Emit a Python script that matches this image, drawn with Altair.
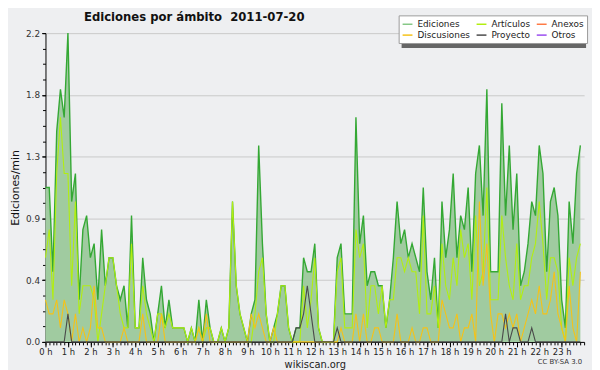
import altair as alt
import pandas as pd

# ---- data (edits per 10-minute slot, in tenths of edits/min) ----
ediciones = [11, 11, 5, 15, 18, 16, 22, 10, 12, 3,
             8, 9, 6, 7, 3, 8, 4, 6, 6, 4,
             3, 4, 1, 9, 1, 1, 6, 3, 2, 0,
             2, 4, 1, 3, 1, 1, 1, 1, 0, 1,
             0, 3, 0, 3, 1, 0, 0, 1, 0, 1,
             10, 4, 2, 1, 0, 2, 3, 14, 7, 2,
             0, 1, 2, 4, 4, 1, 0, 1, 1, 6,
             5, 5, 7, 1, 0, 0, 0, 0, 6, 7,
             2, 2, 2, 16, 7, 9, 4, 5, 5, 4,
             4, 1, 3, 6, 10, 7, 8, 6, 7, 6,
             5, 11, 5, 3, 6, 1, 10, 6, 8, 12,
             6, 9, 8, 11, 5, 12, 14, 9, 18, 5,
             5, 5, 17, 9, 14, 8, 12, 4, 5, 7,
             10, 9, 14, 12, 5, 10, 11, 9, 3, 1,
             10, 7, 12, 14]

articulos = [6, 8, 3, 12, 16, 12, 12, 4, 10, 2,
             4, 4, 4, 3, 0, 2, 4, 6, 6, 4,
             2, 1, 1, 7, 1, 1, 4, 2, 1, 0,
             2, 2, 1, 2, 1, 1, 1, 1, 0, 1,
             0, 1, 0, 1, 1, 0, 0, 1, 0, 1,
             10, 4, 2, 1, 0, 0, 2, 5, 6, 2,
             0, 0, 2, 4, 4, 1, 0, 0, 0, 4,
             1, 3, 6, 1, 0, 0, 0, 0, 5, 6,
             1, 1, 1, 8, 6, 7, 1, 4, 4, 2,
             4, 1, 3, 3, 6, 6, 5, 6, 5, 5,
             2, 9, 2, 2, 4, 1, 7, 4, 3, 6,
             4, 8, 6, 7, 3, 9, 4, 5, 11, 3,
             3, 3, 9, 6, 4, 3, 7, 3, 4, 4,
             6, 7, 10, 7, 3, 6, 6, 5, 1, 0,
             6, 4, 6, 7]

discusiones = [3, 2, 2, 3, 1, 3, 2, 0, 2, 0,
               1, 0, 1, 4, 1, 1, 0, 0, 0, 0,
               0, 1, 0, 0, 0, 0, 2, 0, 0, 0,
               0, 2, 0, 0, 0, 0, 0, 0, 0, 0,
               0, 1, 0, 2, 0, 0, 0, 0, 0, 0,
               0, 0, 0, 0, 0, 2, 1, 2, 1, 0,
               0, 1, 0, 0, 0, 0, 0, 0, 0, 0,
               0, 0, 0, 0, 0, 0, 0, 0, 0, 1,
               0, 0, 0, 2, 0, 2, 0, 0, 1, 1,
               0, 0, 0, 0, 2, 0, 0, 0, 1, 0,
               0, 1, 1, 0, 0, 0, 3, 2, 1, 1,
               2, 0, 1, 1, 2, 0, 10, 4, 7, 2,
               0, 2, 2, 1, 2, 1, 2, 0, 1, 2,
               3, 2, 4, 2, 2, 3, 5, 2, 1, 0,
               4, 1, 0, 5]

proyecto = [0, 0, 0, 0, 0, 0, 2, 0, 0, 0,
            0, 0, 0, 0, 0, 0, 0, 0, 0, 0,
            0, 0, 0, 0, 0, 0, 0, 0, 0, 0,
            0, 0, 0, 0, 0, 0, 0, 0, 0, 0,
            0, 0, 0, 0, 0, 0, 0, 0, 0, 0,
            0, 0, 0, 0, 0, 0, 0, 0, 0, 0,
            0, 0, 0, 0, 0, 0, 0, 1, 1, 2,
            4, 2, 0, 0, 0, 0, 0, 0, 1, 0,
            0, 0, 0, 0, 0, 0, 0, 0, 0, 0,
            0, 0, 0, 0, 0, 0, 0, 0, 0, 0,
            0, 0, 0, 0, 0, 0, 0, 0, 0, 0,
            0, 0, 0, 0, 0, 0, 0, 0, 0, 0,
            0, 0, 0, 2, 0, 1, 1, 0, 0, 0,
            1, 0, 0, 0, 0, 0, 0, 0, 0, 0,
            0, 0, 0, 0]

series_names = ["Ediciones", "Artículos", "Anexos", "Discusiones", "Proyecto", "Otros"]
series_colors = ["#86c886", "#b2ee10", "#ff7a45", "#f5c218", "#4a4a4a", "#9a4cf0"]
y_tick_values = [0, 0.44, 0.88, 1.32, 1.76, 2.2]
hour_ticks = list(range(24))
title_text = "Ediciones por ámbito\u00a0\u00a02011-07-20"
license_text = "CC BY-SA 3.0"

# ---- tables ----
n = len(ediciones)
df_total = pd.DataFrame({"t": [i / 6 for i in range(n)], "v": [x / 10 for x in ediciones]})
rows = []
for name, vals in [("Artículos", articulos), ("Discusiones", discusiones), ("Proyecto", proyecto)]:
    for i, v in enumerate(vals):
        rows.append({"t": i / 6, "serie": name, "v": v / 10})
df_lines = pd.DataFrame(rows)

FONT = "DejaVu Sans"
x_scale = alt.Scale(domain=[0, 24], nice=False, zero=False)
y_scale = alt.Scale(domain=[0, 2.2], nice=False)

x_axis = alt.Axis(values=hour_ticks, labelExpr="datum.value + ' h'", title="wikiscan.org",
                  grid=False, domainColor="#000", tickColor="#000", tickSize=5,
                  labelFont=FONT, labelFontSize=8.5, labelColor="#222", labelPadding=1,
                  labelFlush=False, labelOverlap=False,
                  titleFont=FONT, titleFontSize=10, titleFontWeight="normal",
                  titleColor="#222", titlePadding=3, orient="bottom")
y_axis = alt.Axis(values=y_tick_values, format=".1f", title="Ediciones/min",
                  grid=True, gridColor="#c9c9c9", domainColor="#000", tickColor="#000",
                  tickSize=4, labelFont=FONT, labelFontSize=9, labelColor="#333",
                  labelPadding=2, titleFont=FONT, titleFontSize=11,
                  titleFontWeight="normal", titleColor="#111", titlePadding=5,
                  orient="left")

area = alt.Chart(df_total).mark_area(color="#a0cba0", opacity=1).encode(
    x=alt.X("t:Q", scale=x_scale, axis=x_axis),
    y=alt.Y("v:Q", scale=y_scale, axis=y_axis),
)
total_line = alt.Chart(df_total).mark_line(color="#34a834", strokeWidth=1.4).encode(
    x=alt.X("t:Q", scale=x_scale, axis=None),
    y=alt.Y("v:Q", scale=y_scale, axis=None),
)
lines = alt.Chart(df_lines).mark_line(strokeWidth=1.1).encode(
    x=alt.X("t:Q", scale=x_scale, axis=None),
    y=alt.Y("v:Q", scale=y_scale, axis=None),
    color=alt.Color("serie:N",
                    scale=alt.Scale(domain=series_names, range=series_colors),
                    legend=alt.Legend(title=None, orient="none", legendX=358, legendY=-18,
                                      direction="horizontal", columns=3,
                                      symbolType="stroke", symbolStrokeWidth=1.5,
                                      symbolSize=100, labelFont=FONT, labelFontSize=9,
                                      labelColor="#222", fillColor="#ffffff",
                                      strokeColor="#9a9a9a", padding=3, rowPadding=0,
                                      columnPadding=3, labelOffset=4)),
)
# minor tick axes (10 minutes on x, 0.11 on y)
minor = alt.Chart(df_total).mark_line(opacity=0).encode(
    x=alt.X("t:Q", scale=x_scale,
            axis=alt.Axis(values=[i / 6 for i in range(145)], labels=False, title=None,
                          domain=False, grid=False, tickSize=3, tickColor="#000",
                          orient="bottom")),
    y=alt.Y("v:Q", scale=y_scale,
            axis=alt.Axis(values=[round(0.11 * k, 2) for k in range(21)], labels=False,
                          title=None, domain=False, grid=False, tickSize=3,
                          tickColor="#000", orient="left")),
)
# legend drop shadow (decoration)
shadow = alt.Chart(pd.DataFrame({"k": [0]})).mark_rect(color="#666666").encode(
    x=alt.value(361), x2=alt.value(548), y=alt.value(-14), y2=alt.value(15)
)
title = alt.Chart(pd.DataFrame({"txt": [title_text]})).mark_text(
    align="left", baseline="alphabetic", font=FONT, fontSize=11.8, fontWeight="bold",
    color="#111"
).encode(text="txt:N", x=alt.value(39), y=alt.value(-12))
footer = alt.Chart(pd.DataFrame({"txt": [license_text]})).mark_text(
    align="right", baseline="middle", font=FONT, fontSize=7, color="#333"
).encode(text="txt:N", x=alt.value(544), y=alt.value(333))

chart = alt.layer(area, total_line, lines, minor, shadow, title, footer).resolve_axis(
    x="independent", y="independent"
).properties(
    width=546, height=313,
    autosize=alt.AutoSizeParams(type="none"),
    padding={"left": 38, "top": 23, "right": 8, "bottom": 26},
    background="#eeeff1",
).configure_view(stroke=None, fill="#eeeff1")

chart.save("out.html", embed_options={"renderer": "svg", "actions": False})
